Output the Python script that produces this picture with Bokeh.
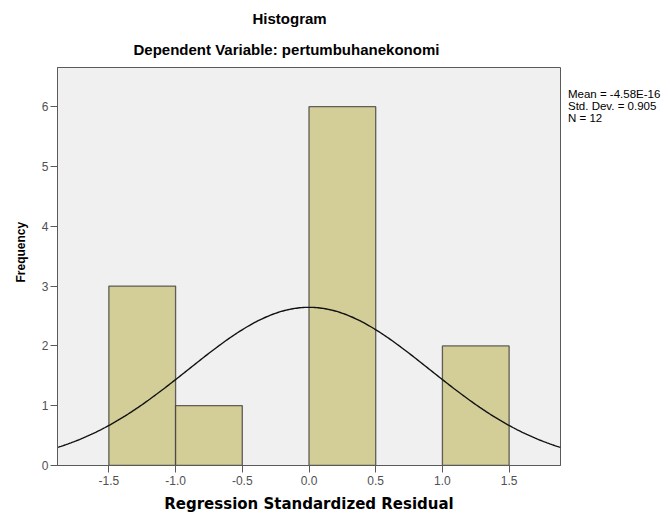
import numpy as np
from bokeh.plotting import figure
from bokeh.models import FixedTicker, Range1d, Title, Legend, LegendItem
from bokeh.embed import file_html
from bokeh.resources import INLINE

# Data
bin_edges = [-1.5, -1.0, -0.5, 0.0, 0.5, 1.0, 1.5]
counts = [3, 1, 0, 6, 0, 2]
x_ticks = [-1.5, -1.0, -0.5, 0.0, 0.5, 1.0, 1.5]
x_tick_labels = ["-1.5", "-1.0", "-0.5", "0.0", "0.5", "1.0", "1.5"]
y_ticks = [0, 1, 2, 3, 4, 5, 6]
mean_val = -4.58e-16
std_dev = 0.905
n_obs = 12
stats_lines = ["Mean = -4.58E-16", "Std. Dev. = 0.905", "N = 12"]

FONT = "Liberation Sans"

p = figure(width=670, height=513, output_backend="svg", toolbar_location=None, title=None,
           x_range=Range1d(-1.885, 1.885), y_range=Range1d(0, 6.655),
           min_border_left=57, min_border_right=110, min_border_top=67, min_border_bottom=48,
           frame_width=503, frame_height=398)
p.background_fill_color = "#F0F0F0"
p.border_fill_color = "white"
p.outline_line_color = "#5A5A5A"
p.outline_line_width = 1
p.xgrid.visible = False
p.ygrid.visible = False

lefts = bin_edges[:-1]
rights = bin_edges[1:]
nz = [i for i, c in enumerate(counts) if c > 0]
p.quad(left=[lefts[i] for i in nz], right=[rights[i] for i in nz],
       bottom=0, top=[counts[i] for i in nz],
       fill_color="#D3CE97", line_color="#3C3C3C", line_alpha=0.8, line_width=1.3)

# normal curve from the displayed statistics
bin_w = bin_edges[1] - bin_edges[0]
xs = np.linspace(-1.885, 1.885, 300)
ys = n_obs * bin_w * np.exp(-0.5 * ((xs - mean_val) / std_dev) ** 2) / (std_dev * np.sqrt(2 * np.pi))
p.line(xs, ys, line_color="#111111", line_width=1.4)

for ax in (p.xaxis[0], p.yaxis[0]):
    ax.axis_line_color = "#5A5A5A"
    ax.major_tick_line_color = "#5A5A5A"
    ax.major_tick_out = 7
    ax.major_tick_in = 0
    ax.minor_tick_line_color = None
    ax.major_label_text_font = FONT
    ax.major_label_text_font_size = "12px"
    ax.major_label_text_color = "#505050"

p.xaxis.major_label_standoff = 3
p.yaxis.major_label_standoff = 2
p.xaxis.ticker = FixedTicker(ticks=x_ticks)
p.xaxis.major_label_overrides = {t: l for t, l in zip(x_ticks, x_tick_labels)}
p.yaxis.ticker = FixedTicker(ticks=y_ticks)

p.xaxis.axis_label = "Regression Standardized Residual"
p.xaxis.axis_label_text_font = "DejaVu Sans"
p.xaxis.axis_label_text_font_style = "bold"
p.xaxis.axis_label_text_font_size = "15px"
p.xaxis.axis_label_text_color = "black"
p.xaxis.axis_label_standoff = 7

# y axis title (offset from the frame centre as in the reference)
p.add_layout(Title(text="Frequency", text_font=FONT, text_font_style="bold", text_font_size="12px",
                   text_color="black", align="left", offset=183, standoff=21), "left")

# titles above (first added is closest to the frame)
p.add_layout(Title(text="Dependent Variable: pertumbuhanekonomi", text_font=FONT, text_font_style="bold",
                   text_font_size="15px", text_color="black", align="left", offset=76, standoff=19), "above")
p.add_layout(Title(text="Histogram", text_font=FONT, text_font_style="bold",
                   text_font_size="15px", text_color="black", align="left", offset=195, standoff=5), "above")

# statistics box at the right
dummy = p.scatter(x=[0], y=[0], size=0, fill_alpha=0, line_alpha=0)
legend = Legend(items=[LegendItem(label="\n".join(stats_lines), renderers=[dummy])],
                location="top_left", margin=0, padding=0, spacing=0,
                glyph_width=0, glyph_height=9, label_height=9, label_standoff=8,
                label_text_font=FONT, label_text_font_size="11.5px", label_text_color="black",
                label_text_line_height=0.8,
                border_line_color=None, background_fill_alpha=0,
                title=" ", title_text_font_size="8px", title_standoff=12)
p.add_layout(legend, "right")

open("out.html", "w").write(file_html(p, INLINE))
